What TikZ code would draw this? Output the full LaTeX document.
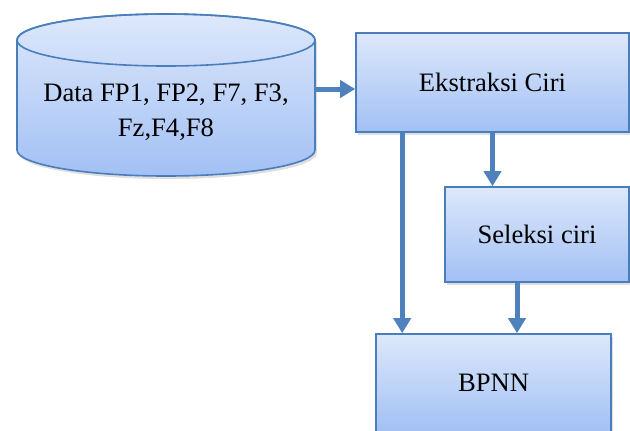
\documentclass[tikz,border=0pt]{standalone}
\usepackage{fontspec}
\setmainfont{Liberation Serif}
\usetikzlibrary{arrows.meta,shadows}

\definecolor{boxline}{HTML}{4A7EBB}
\definecolor{flowblue}{HTML}{4F81BD}
\definecolor{filltop}{HTML}{DDE8FB}
\definecolor{fillbot}{HTML}{A2C0F4}

\tikzset{
  shaded box/.style={draw=boxline, line width=0.8pt, top color=filltop, bottom color=fillbot,
    drop shadow={shadow xshift=1pt, shadow yshift=-1.5pt, opacity=0.25}},
  stage/.style={shaded box, rectangle, font=\fontsize{13.3}{16}\selectfont, align=center},
  flow/.style={draw=flowblue, line width=2.5pt, -{Triangle[length=7.5pt,width=8.5pt]}}
}

\begin{document}
\begin{tikzpicture}[x=0.5pt, y=-0.5pt]
	\useasboundingbox (0,0) rectangle (630,430);
	
	% database cylinder
	\def\rx{74.5pt} % half width
	\def\ry{13pt} % lid radius
	\coordinate (lid) at (166,40);
	\path[shaded box] (17,40) -- (17,150)
	  arc[start angle=180, end angle=360, x radius=\rx, y radius=\ry]
	  -- (315,40)
	  arc[start angle=0, end angle=180, x radius=\rx, y radius=\ry] -- cycle;
	\draw[boxline, line width=0.8pt] (lid) ellipse[x radius=\rx, y radius=\ry];
	\node[font=\fontsize{13.3}{17.5}\selectfont, align=center] (data) at (166,112)
	  {Data FP1, FP2, F7, F3,\\Fz,F4,F8};
	
	% stages
	\node[stage, minimum width=136.5pt, minimum height=49.5pt] (ekstraksi) at (492.5,82.5) {Ekstraksi Ciri};
	\node[stage, minimum width=92pt, minimum height=47.5pt] (seleksi) at (537,234.5) {Seleksi ciri};
	\node[stage, minimum width=117.5pt, minimum height=49pt] (bpnn) at (493.5,383) {BPNN};
	
	% arrows
	\coordinate (datain) at (315,89);
	\draw[flow] (datain) -- (datain -| ekstraksi.west);
	
	\coordinate (bypass) at ([xshift=23.5pt]ekstraksi.south west);
	\draw[flow] (bypass) -- (bypass |- bpnn.north);
	\draw[flow] (ekstraksi.south) -- (ekstraksi.south |- seleksi.north);
	
	\coordinate (selout) at ([xshift=-10pt]seleksi.south);
	\draw[flow] (selout) -- (selout |- bpnn.north);
\end{tikzpicture}
\end{document}
